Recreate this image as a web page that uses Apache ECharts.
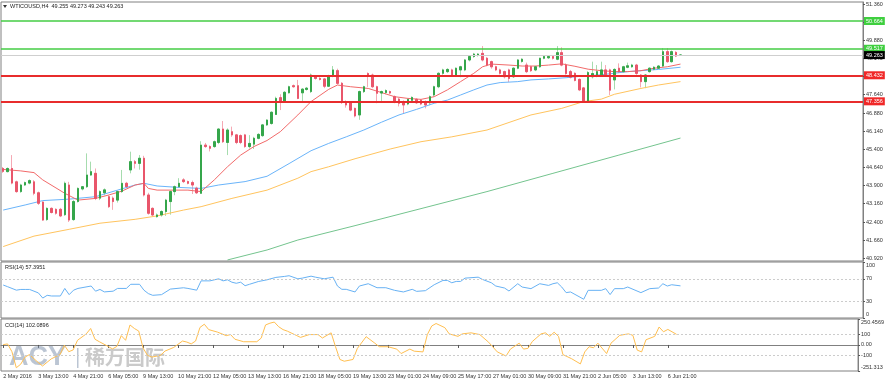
<!DOCTYPE html>
<html><head><meta charset="utf-8">
<script src="https://cdn.jsdelivr.net/npm/echarts@6.0.0/dist/echarts.min.js"></script>
<style>html,body{margin:0;padding:0;background:#fff}#c{width:887px;height:381px}</style>
</head><body><div id="c"></div>
<script>
// ---- data ----
const tickLabels = ['2 May 2016','3 May 13:00','4 May 21:00','6 May 05:00','9 May 13:00','10 May 21:00','12 May 05:00','13 May 13:00','16 May 21:00','18 May 05:00','19 May 13:00','23 May 01:00','24 May 09:00','25 May 17:00','27 May 01:00','30 May 09:00','31 May 21:00','2 Jun 05:00','3 Jun 13:00','6 Jun 21:00'];
const slotCount = 196;           // bar slots across the chart (incl. empty right margin)
const priceTicks = ['40.920','41.660','42.400','43.160','43.900','44.640','45.400','46.140','46.880','47.640','48.400','49.140','49.880','50.620','51.360'];
const rsiTicks = [0,30,70,100];
const cciTickValues = [-251.313,-100,0,100,250.4569];
const cciTickLabels = ['-251.313','-100','0.00','100','250.4569'];
const levels = [
  {v:50.664, kind:'green'}, {v:49.517, kind:'green'}, {v:49.263, kind:'last'},
  {v:48.432, kind:'red'}, {v:47.356, kind:'red'}
];
// [open, close, low, high]
const candles = [
[44.60,44.48,44.42,44.66],[44.47,44.60,44.44,44.64],[44.60,44.00,43.95,45.15],[44.05,43.65,43.60,44.10],[43.65,43.92,43.60,43.97],
[43.92,44.02,43.88,44.06],[44.00,44.10,43.95,44.15],[44.05,43.58,43.50,44.12],[43.60,43.17,43.10,43.65],[43.22,42.48,42.45,43.25],
[42.50,42.96,42.45,43.00],[42.96,42.79,42.75,43.00],[42.92,42.76,42.70,42.96],[42.92,42.65,42.60,42.98],[42.70,43.99,42.65,44.06],
[43.92,42.48,42.40,44.05],[42.50,43.24,42.45,43.30],[43.24,43.78,43.20,43.82],[43.76,43.85,43.70,43.88],[43.85,44.33,43.80,45.22],
[44.33,44.47,44.30,44.88],[44.40,43.37,43.30,44.60],[43.38,43.65,43.30,43.70],[43.60,43.72,43.50,43.78],[43.44,43.03,42.98,43.50],
[43.38,43.24,42.90,43.45],[43.30,43.65,43.20,43.70],[43.65,43.99,43.60,44.54],[43.99,43.85,43.80,44.05],[44.54,44.88,44.40,45.29],
[44.88,44.81,44.60,44.95],[44.81,45.02,44.55,45.15],[45.02,43.51,43.45,45.12],[43.51,42.76,42.70,43.60],[42.96,42.69,42.62,43.00],
[42.62,42.69,42.58,42.75],[42.69,42.83,42.62,42.88],[42.83,43.30,42.65,43.35],[43.24,43.65,42.70,43.70],[43.65,43.85,43.50,43.90],
[43.85,43.99,43.80,44.20],[44.13,44.06,44.00,44.20],[44.06,43.99,43.95,44.10],[44.02,43.92,43.55,44.10],[43.79,43.60,43.55,43.85],
[43.58,45.56,43.55,45.72],[45.56,45.50,45.45,45.65],[45.50,45.43,45.30,45.55],[45.50,45.70,45.45,45.75],[45.67,46.22,45.60,46.25],
[46.22,45.70,45.65,46.55],[45.67,46.18,45.15,46.25],[46.11,45.98,45.90,46.32],[45.98,45.67,45.60,46.02],[45.95,45.67,45.60,46.00],
[45.98,45.50,45.45,46.02],[45.50,45.63,45.42,45.97],[45.60,45.84,45.40,45.90],[45.84,46.00,45.80,46.05],[45.95,46.39,45.90,46.43],
[46.39,46.59,46.35,46.62],[46.45,46.91,46.40,46.95],[46.82,47.48,46.80,47.55],[47.51,47.34,47.00,47.65],[47.34,47.73,47.30,47.78],
[47.71,47.96,47.68,48.00],[48.00,47.96,47.92,48.05],[48.00,47.48,47.45,48.24],[47.71,47.86,47.35,47.90],[47.85,47.90,47.80,47.95],
[47.76,48.44,47.70,48.50],[48.37,48.30,48.25,48.43],[48.30,48.26,48.22,48.35],[48.28,47.98,47.90,48.32],[47.98,48.40,47.95,48.45],
[48.40,48.65,48.35,48.81],[48.62,48.10,48.05,48.70],[48.10,47.35,47.25,48.15],[47.35,47.21,47.10,47.40],[47.30,47.00,46.95,47.35],
[47.07,46.76,46.70,47.10],[46.80,47.76,46.60,47.80],[47.76,47.96,47.70,48.00],[48.50,48.44,47.95,48.55],[48.44,47.96,47.90,48.50],
[47.96,47.69,47.28,48.00],[47.70,47.76,47.30,47.80],[47.72,47.80,47.65,47.85],[47.76,47.70,47.65,47.80],[47.55,47.35,47.28,47.60],
[47.45,47.28,47.15,47.50],[47.35,47.21,46.87,47.40],[47.25,47.44,47.20,47.48],[47.40,47.52,47.35,47.56],[47.44,47.30,47.25,47.48],
[47.41,47.25,47.20,47.45],[47.35,47.21,47.07,47.40],[47.30,47.55,47.20,47.60],[47.62,47.96,47.55,48.00],[47.96,48.51,47.90,48.55],
[48.51,48.65,48.45,48.70],[48.58,48.67,48.52,48.72],[48.65,48.44,48.40,48.70],[48.44,48.72,48.40,48.75],[48.65,48.78,48.35,48.82],
[48.65,49.06,48.60,49.10],[49.06,49.20,49.00,49.24],[49.20,49.30,49.15,49.35],[49.25,49.30,49.20,49.34],[49.33,49.06,49.00,49.63],
[49.13,48.85,48.80,49.18],[48.99,48.78,48.70,49.03],[48.78,48.65,48.60,48.82],[48.65,48.51,48.46,48.70],[48.58,48.37,48.30,48.62],
[48.65,48.30,48.15,48.70],[48.37,48.72,48.32,48.76],[48.72,49.06,48.68,49.10],[49.00,49.09,48.95,49.13],[48.85,48.58,48.52,48.95],
[48.78,48.62,48.57,48.82],[48.65,48.78,48.60,48.82],[48.78,49.13,48.74,49.15],[49.13,49.20,49.09,49.24],[49.15,49.20,49.10,49.25],
[49.20,49.13,49.08,49.25],[49.09,49.36,49.05,49.63],[49.36,48.85,48.80,49.58],[48.85,48.50,48.45,48.92],[48.58,48.35,48.30,48.65],
[48.51,48.22,48.18,48.55],[48.26,47.83,47.78,48.30],[47.91,47.35,47.30,47.95],[47.35,48.54,47.30,48.60],[48.37,48.50,48.30,48.99],
[48.40,48.58,48.35,48.85],[48.45,48.65,48.40,48.99],[48.65,48.44,48.38,48.85],[48.65,47.82,47.62,48.70],[48.24,48.67,47.85,48.72],
[48.72,48.58,48.52,48.92],[48.58,48.78,48.55,48.82],[48.76,48.82,48.72,48.95],[48.78,48.85,48.74,48.90],[48.85,48.51,48.45,48.90],
[48.44,48.17,47.93,48.48],[48.17,48.44,47.90,48.48],[48.58,48.72,48.54,48.76],[48.68,48.76,48.64,48.80],[48.72,48.81,48.68,48.85],
[48.81,49.40,48.77,49.55],[49.40,48.99,48.94,49.55],[48.99,49.40,48.95,49.45],[49.37,49.22,49.18,49.42],[49.255,49.263,49.243,49.273]
];
// moving averages: [bar index, price]
const maRed = [[0,44.56],[4,44.50],[7,44.43],[9,44.13],[12,43.80],[14,43.58],[17,43.30],[21,43.37],[24,43.51],[27,43.67],[30,43.92],[32,43.99],[33,43.78],[35,43.71],[38,43.71],[42,43.71],[45,43.65],[48,44.13],[51,44.67],[54,45.15],[57,45.50],[60,45.75],[63,46.11],[67,46.80],[70,47.35],[74,47.85],[76,48.03],[79,47.96],[83,47.89],[86,47.72],[89,47.55],[92,47.48],[95,47.44],[98,47.55],[101,47.83],[104,48.17],[107,48.51],[109,48.78],[111,48.89],[115,48.85],[118,48.81],[121,48.81],[124,48.85],[127,48.90],[130,48.80],[133,48.68],[136,48.62],[139,48.58],[142,48.58],[145,48.62],[148,48.72],[151,48.78],[154,48.89]];
const maBlue = [[0,42.89],[5,43.10],[9,43.28],[15,43.34],[21,43.44],[26,43.71],[30,43.92],[32,43.99],[35,43.88],[40,43.82],[45,43.78],[49,43.92],[55,44.06],[60,44.28],[65,44.80],[70,45.33],[74,45.63],[78,45.90],[82,46.18],[86,46.50],[90,46.80],[94,47.03],[98,47.28],[101,47.41],[104,47.62],[107,47.83],[110,48.03],[113,48.13],[117,48.17],[120,48.24],[124,48.28],[128,48.33],[132,48.40],[136,48.45],[142,48.58],[149,48.67],[154,48.76]];
const maOrange = [[0,41.39],[7,41.82],[15,42.10],[22,42.35],[30,42.51],[35,42.65],[41,42.89],[45,43.03],[52,43.37],[60,43.71],[67,44.20],[70,44.47],[74,44.67],[80,45.00],[88,45.40],[95,45.70],[102,45.90],[110,46.18],[120,46.80],[127,47.07],[132,47.35],[136,47.45],[139,47.65],[145,47.89],[149,48.03],[154,48.17]];
const maGreen = [[51,40.84],[60,41.25],[67,41.66],[80,42.25],[95,42.95],[110,43.65],[125,44.40],[140,45.15],[154,45.85]];
const rsi = [[0,58.9],[1,55.9],[3,49.7],[4,51],[5,51],[6,51],[8,44.8],[9,35.6],[10,40.5],[11,39.3],[13,39.3],[14,52.8],[15,41.7],[16,49.7],[17,52.8],[20,57.1],[21,47.9],[22,51],[23,46.6],[25,47.9],[26,52.8],[28,52.8],[29,60.2],[31,60.2],[32,49.7],[33,43.6],[34,40.5],[36,41.7],[38,51.6],[41,54],[42,52.8],[44,49.7],[45,66.3],[47,66.3],[49,70],[50,66.3],[51,68.2],[52,63.9],[53,62],[54,63.9],[55,57.7],[56,60.2],[58,65.1],[60,68.2],[62,72.5],[64,74.3],[65,75.5],[67,70],[68,71.2],[70,74.7],[71,72.9],[73,70],[75,72.9],[76,57.1],[77,51.2],[78,51.2],[80,46.5],[81,57.1],[83,61.2],[85,54.1],[87,54.1],[89,49.4],[91,46.5],[93,51.2],[94,47.6],[96,48.8],[98,59.4],[100,67.1],[101,67.1],[102,62.9],[103,65.3],[104,65.3],[105,71.2],[108,72.9],[109,68.8],[111,62.9],[112,57.1],[114,53.5],[115,48.2],[117,61.2],[118,55.3],[120,52.4],[122,61.2],[124,58.2],[125,61.2],[126,62.9],[127,55.3],[128,45.3],[129,46.5],[132,33.5],[133,49.4],[136,49.4],[137,52.4],[138,41.8],[139,52.4],[141,52.4],[142,55.3],[145,45.3],[147,52.4],[149,53.5],[150,61.2],[151,57.1],[152,59.4],[154,57.4]];
const cci = [[0,3],[1,10],[2,-65],[3,-220],[4,-186],[5,-117],[6,-93],[8,-169],[9,-203],[11,-134],[13,-93],[14,-3],[15,-65],[16,-48],[17,45],[19,107],[20,159],[21,55],[22,31],[24,-14],[25,-38],[26,-14],[27,90],[28,45],[29,193],[30,159],[31,134],[32,-31],[33,-100],[34,-117],[36,-100],[37,-59],[39,-24],[41,38],[42,28],[43,10],[44,38],[45,169],[46,200],[47,148],[49,124],[51,90],[52,100],[53,55],[55,31],[58,31],[59,66],[60,193],[61,210],[62,221],[63,176],[64,148],[65,133],[67,93],[68,73],[70,100],[72,100],[73,67],[75,117],[76,-17],[77,-140],[78,-157],[80,-140],[81,-33],[83,80],[85,17],[86,-17],[88,-17],[90,-40],[91,-83],[93,-40],[94,-60],[96,-67],[97,100],[98,183],[99,207],[101,167],[102,107],[104,83],[105,107],[107,117],[109,100],[111,27],[113,-67],[115,-107],[116,-40],[118,17],[119,-40],[120,-33],[121,33],[123,107],[124,117],[125,83],[126,123],[127,83],[128,-93],[130,-133],[132,-183],[133,-67],[134,-17],[135,-27],[136,17],[138,-83],[139,17],[141,93],[143,107],[144,93],[145,-50],[146,-67],[147,50],[149,83],[150,173],[151,127],[152,150],[154,102]];
const titleText = 'WTICOUSD,H4  49.255 49.273 49.243 49.263';
const rsiTitle = 'RSI(14) 57.3951';
const cciTitle = 'CCI(14) 102.0896';

// ---- chart ----
const categories = Array.from({length: slotCount}, (_, i) => 'b' + i);
const FONT = 'Tahoma, "DejaVu Sans", "Liberation Sans", Arial, sans-serif';
const SMALL = 5.5;
const axisText = {fontSize: SMALL, color: '#333', fontFamily: '"Liberation Sans", Arial, sans-serif'};
const frame = '#808080';

const levelStyle = {
  green: {line: '#44cc44', w: 1.5, bg: '#3fcf3f', fg: '#ffffff'},
  red:   {line: '#e82c2c', w: 2,   bg: '#f02828', fg: '#ffffff'},
  last:  {line: '#cfcfcf', w: 1,   bg: '#000000', fg: '#ffffff'}
};

const chart = echarts.init(document.getElementById('c'), null, {renderer: 'canvas'});
const xBase = (gi, showLabels) => ({
  type: 'category', gridIndex: gi, data: categories, boundaryGap: true,
  axisLine: {show: showLabels, lineStyle: {color: frame}},
  axisTick: {show: showLabels, alignWithLabel: true, length: 3, lineStyle: {color: '#555'},
    interval: (i) => i % 8 === 0 && i / 8 < tickLabels.length},
  axisLabel: {show: showLabels, ...axisText, margin: 2, align: 'left',
    interval: (i) => i % 8 === 0 && i / 8 < tickLabels.length,
    formatter: (v, i) => (i % 8 === 0 ? (tickLabels[i / 8] || '') : '')},
  splitLine: {show: false}
});
// labels at the panel edges are nudged inward like the original terminal does
const edgeRich = {
  dn: {padding: [6, 0, 0, 0], fontSize: SMALL, color: '#333', fontFamily: axisText.fontFamily},
  up: {padding: [0, 0, 7, 0], fontSize: SMALL, color: '#333', fontFamily: axisText.fontFamily}
};
const yBase = (gi, min, max, values, fmt) => ({
  type: 'value', gridIndex: gi, position: 'right', min, max, scale: true,
  axisLine: {show: true, lineStyle: {color: frame}},
  axisTick: {show: true, length: 2, customValues: values, lineStyle: {color: '#555'}},
  axisLabel: {...axisText, margin: 3, customValues: values, formatter: fmt, rich: edgeRich},
  splitLine: {show: false}
});

const bodies = candles.map(([o, c]) => [o, c, Math.min(o, c), Math.max(o, c)]);
const lineSeries = (data, color, xi, yi) => ({
  type: 'line', data, xAxisIndex: xi, yAxisIndex: yi, showSymbol: false, symbol: 'none',
  smooth: false, lineStyle: {color, width: 1}, silent: true, z: 3
});

const option = {
  animation: false,
  backgroundColor: '#ffffff',
  grid: [
    {left: 1, top: 2, width: 862, height: 259, show: true, borderColor: frame, borderWidth: 1},
    {left: 1, top: 262, width: 862, height: 56, show: true, borderColor: frame, borderWidth: 1},
    {left: 1, top: 319, width: 862, height: 52, show: true, borderColor: frame, borderWidth: 1}
  ],
  xAxis: [xBase(0, false), xBase(1, false), xBase(2, true)],
  yAxis: [
    yBase(0, 40.797, 51.442, priceTicks.map(Number), (v) => v.toFixed(3)),
    yBase(1, 0, 100, rsiTicks, (v) => v === 100 ? '{dn|100}' : v === 0 ? '{up|0}' : String(v)),
    yBase(2, -251.313, 250.4569, cciTickValues, (v) => {
      const i = cciTickValues.indexOf(v);
      const t = i >= 0 ? cciTickLabels[i] : String(v);
      return i === cciTickValues.length - 1 ? '{dn|' + t + '}' : i === 0 ? '{up|' + t + '}' : t;
    })
  ],
  series: [
    { // wicks (lighter)
      type: 'candlestick', data: candles, xAxisIndex: 0, yAxisIndex: 0, barWidth: 2, silent: true, z: 2,
      itemStyle: {color: '#a6dcae', color0: '#f5a9b4', borderColor: '#a6dcae', borderColor0: '#f5a9b4', borderWidth: 1}
    },
    { // bodies
      type: 'candlestick', data: bodies, xAxisIndex: 0, yAxisIndex: 0, barWidth: 2, silent: true, z: 4,
      itemStyle: {color: '#35a64b', color0: '#e9566b', borderColor: '#35a64b', borderColor0: '#e9566b', borderWidth: 1},
      markLine: {
        silent: true, symbol: ['none', 'none'], animation: false,
        data: levels.map(l => ({
          yAxis: l.v,
          lineStyle: {color: levelStyle[l.kind].line, width: levelStyle[l.kind].w, type: 'solid'},
          label: {show: true, position: 'end', distance: 1, formatter: l.v.toFixed(3),
            backgroundColor: levelStyle[l.kind].bg, color: levelStyle[l.kind].fg,
            fontSize: SMALL, fontFamily: axisText.fontFamily, padding: [1, 2, 1, 2], borderRadius: 0}
        }))
      }
    },
    lineSeries(maGreen, '#74c48e', 0, 0),
    lineSeries(maOrange, '#ffc45e', 0, 0),
    lineSeries(maBlue, '#6ab4fa', 0, 0),
    lineSeries(maRed, '#f26a6a', 0, 0),
    Object.assign(lineSeries(rsi, '#68b2f4', 1, 1), {
      markLine: {silent: true, symbol: ['none', 'none'], label: {show: false},
        lineStyle: {color: '#cccccc', type: [2, 2], width: 1}, data: [{yAxis: 70}, {yAxis: 30}]}
    }),
    Object.assign(lineSeries(cci, '#ffbf50', 2, 2), {
      markLine: {silent: true, symbol: ['none', 'none'], label: {show: false},
        lineStyle: {color: '#cccccc', type: [2, 2], width: 1}, data: [{yAxis: 100}, {yAxis: -100}]}
    })
  ],
  graphic: [
    {type: 'polygon', shape: {points: [[3, 5], [7, 5], [5, 8]]}, style: {fill: '#333'}, z: 10},
    {type: 'text', x: 10, y: 3.5, style: {text: titleText, font: SMALL + 'px ' + axisText.fontFamily, fill: '#222'}, z: 10},
    {type: 'text', x: 5, y: 264, style: {text: rsiTitle, font: SMALL + 'px ' + axisText.fontFamily, fill: '#222'}, z: 10},
    {type: 'text', x: 5, y: 322, style: {text: cciTitle, font: SMALL + 'px ' + axisText.fontFamily, fill: '#222'}, z: 10},
    {type: 'text', x: 9, y: 344, style: {text: 'ACY', font: 'bold 27px "Liberation Sans", Arial, sans-serif', fill: 'rgba(120,140,168,0.5)'}, z: 1},
    {type: 'rect', shape: {x: 77, y: 348, width: 1.5, height: 20}, style: {fill: 'rgba(120,140,168,0.5)'}, z: 1},
    {type: 'text', x: 85, y: 347, style: {text: '稀万国际', font: 'bold 20px "Noto Sans CJK SC", sans-serif', fill: 'rgba(150,150,150,0.5)'}, z: 1}
  ]
};
chart.setOption(option);
</script>
</body></html>
